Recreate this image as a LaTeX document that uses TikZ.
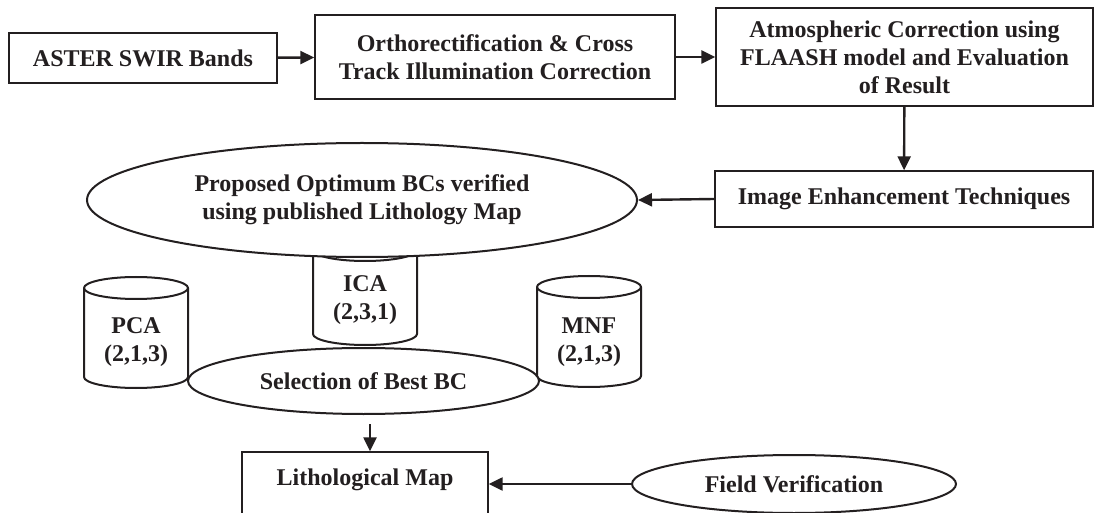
\documentclass[tikz,border=0pt]{standalone}
\usepackage{fontspec}
\setmainfont{Liberation Serif}
\usetikzlibrary{shapes.geometric,arrows.meta}
\definecolor{ink}{HTML}{231F20}
\tikzset{
  every node/.style={font=\fontsize{24}{28}\selectfont\bfseries, text=ink, align=center},
  stepbox/.style={draw=ink, line width=1.4pt, fill=white, rectangle, inner sep=0pt},
  oval/.style={draw=ink, line width=2pt, fill=white, ellipse, inner sep=0pt},
  flow/.style={draw=ink, line width=2.4pt, -{Triangle[length=14pt,width=13pt]}},
  cylbody/.style={draw=ink, line width=2pt, fill=white}
}
% a cylinder standing upright: centre x, half width, top y, bottom y, end radius
\newcommand{\drumshape}[5]{%
  \path[cylbody] (#1-#2,#3) -- (#1-#2,#4) arc[start angle=180,end angle=360,x radius=#2pt,y radius=#5pt]
    -- (#1+#2,#3) arc[start angle=0,end angle=180,x radius=#2pt,y radius=#5pt] -- cycle;
  \draw[ink, line width=2pt] (#1-#2,#3) arc[start angle=180,end angle=360,x radius=#2pt,y radius=#5pt];
}
\begin{document}
\begin{tikzpicture}[x=1pt,y=1pt]
\useasboundingbox (0,0) rectangle (1095,512);

% top row of processing steps
\node[stepbox, minimum width=268pt, minimum height=50pt] (aster) at (143,454) {ASTER SWIR Bands};
\node[stepbox, minimum width=360pt, minimum height=84pt] (ortho) at (495,455)
  {Orthorectification \& Cross\\Track Illumination Correction};
\node[stepbox, minimum width=377pt, minimum height=98pt] (atmo) at (904.5,455)
  {Atmospheric Correction using\\FLAASH model and Evaluation\\of Result};
\node[stepbox, minimum width=378pt, minimum height=56pt] (enh) at (904,313) {Image Enhancement Techniques};

% band-combination drums
\drumshape{365}{52}{262}{178}{11}
\drumshape{136}{52}{224}{135}{11}
\drumshape{589}{52}{225}{136}{11}
\node (ica) at (365,212) {ICA\\(2,3,1)};
\node (pca) at (136,170) {PCA\\(2,1,3)};
\node (mnf) at (589,170) {MNF\\(2,1,3)};

% ovals
\node[oval, minimum width=550pt, minimum height=114pt] (prop) at (362,312)
  {Proposed Optimum BCs verified\\using published Lithology Map};
\node[oval, minimum width=351pt, minimum height=66pt] (sel) at (363.5,131) {Selection of Best BC};
\node[oval, minimum width=324pt, minimum height=58pt] (field) at (794,28) {Field Verification};

% final map
\node[stepbox, minimum width=246pt, minimum height=72pt, text height=12pt, text depth=18pt] (lith) at (365,24) {Lithological Map};

% connectors
\draw[flow] (aster) -- (ortho);
\draw[flow] (ortho) -- (atmo);
\draw[flow] (atmo) -- (enh);
\draw[flow] (enh.west) -- (prop.east);
\draw[flow, shorten <=9pt] ([xshift=5pt]lith.north |- sel.south) -- ([xshift=5pt]lith.north);
\draw[flow] (field.west) -- (field.west -| lith.east);
\end{tikzpicture}
\end{document}
